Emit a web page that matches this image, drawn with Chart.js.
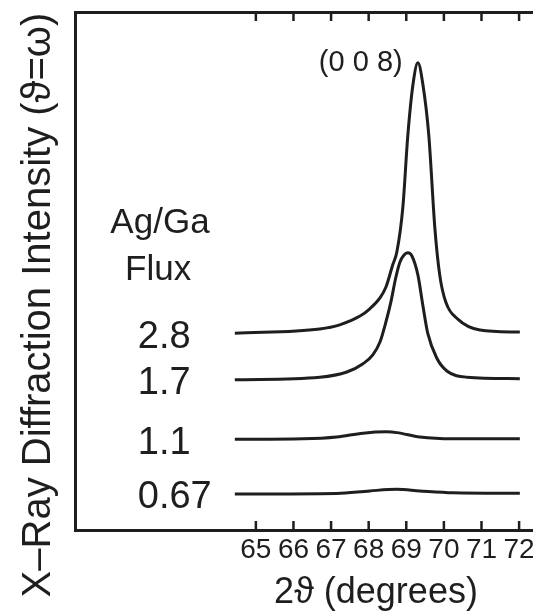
<!DOCTYPE html>
<html>
<head>
<meta charset="utf-8">
<title>X-Ray Diffraction (0 0 8) peak vs Ag/Ga flux</title>
<script src="https://cdn.jsdelivr.net/npm/chart.js@4.4.1/dist/chart.umd.min.js"></script>
<style>
  html, body { margin: 0; padding: 0; background: #ffffff; }
  canvas { display: block; }
</style>
</head>
<body>
<canvas id="xrdChart" width="533" height="616"></canvas>
<script>
// ==========================
// Data
// ==========================

const xTicks = [65, 66, 67, 68, 69, 70, 71, 72];
const fluxLabels = ["2.8", "1.7", "1.1", "0.67"];

// 2θ (degrees) and offset intensity (arb. units) for each flux
const flux28X = [64.44, 66.70, 67.23, 67.77, 68.03, 68.30, 68.46, 68.64, 68.75, 68.91, 69.04, 69.18, 69.31, 69.44, 69.60, 69.76, 69.89, 70.05, 70.37, 70.96, 72.02];
const flux28Y = [38.0, 38.8, 39.6, 41.3, 42.7, 44.8, 46.9, 51.2, 53.7, 62.4, 76.1, 86.1, 90.2, 86.1, 76.1, 58.3, 49.2, 44.0, 40.7, 38.6, 38.2];

const flux17X = [64.44, 66.70, 67.42, 67.85, 68.11, 68.30, 68.46, 68.59, 68.72, 68.83, 68.94, 69.04, 69.15, 69.31, 69.44, 69.57, 69.81, 70.08, 70.61, 72.02];
const flux17Y = [29.0, 29.5, 30.5, 32.1, 33.8, 36.3, 40.2, 44.0, 48.7, 51.7, 53.1, 53.5, 52.9, 49.2, 43.4, 38.0, 33.2, 30.7, 29.5, 29.2];

const flux11X = [64.44, 66.25, 67.15, 67.85, 68.48, 68.75, 69.36, 70.24, 72.02];
const flux11Y = [17.5, 17.6, 17.95, 18.7, 18.95, 18.8, 17.95, 17.6, 17.6];

const flux067X = [64.44, 67.15, 68.03, 68.75, 69.36, 70.24, 72.02];
const flux067Y = [6.95, 7.05, 7.55, 7.85, 7.55, 7.2, 7.1];

// ==========================
// Styling
// ==========================

const ink = "#1e1e1e";
const family = '"Liberation Sans", Arial, sans-serif';

const toPoints = (xs, ys) => xs.map((x, i) => ({ x: x, y: ys[i] }));

const makeLine = (label, xs, ys) => ({
    label: label,
    data: toPoints(xs, ys),
    borderColor: ink,
    borderWidth: 3,
    pointRadius: 0,
    fill: false,
    cubicInterpolationMode: "monotone"
});

const frame = { display: true, color: ink, width: 3 };

// inward ticks, annotations and axis titles
const annotate = {
    id: "annotate",
    afterDraw(chart) {
        const { ctx, chartArea } = chart;
        const xs = chart.scales.x;
        const ys = chart.scales.y;

        ctx.save();

        ctx.strokeStyle = ink;
        ctx.lineWidth = 2.5;
        xTicks.forEach(v => {
            const px = xs.getPixelForValue(v);
            ctx.beginPath();
            ctx.moveTo(px, chartArea.bottom);
            ctx.lineTo(px, chartArea.bottom - 9);
            ctx.moveTo(px, chartArea.top);
            ctx.lineTo(px, chartArea.top + 9);
            ctx.stroke();
        });

        ctx.fillStyle = ink;

        // peak label
        ctx.font = "29px " + family;
        ctx.textAlign = "center";
        ctx.textBaseline = "middle";
        ctx.fillText("(0 0 8)", xs.getPixelForValue(67.79), ys.getPixelForValue(90.1));

        // legend header
        ctx.font = "35px " + family;
        ctx.textBaseline = "alphabetic";
        ctx.fillText("Ag/Ga", xs.getPixelForValue(62.45), ys.getPixelForValue(57.3));
        ctx.fillText("Flux", xs.getPixelForValue(62.4), ys.getPixelForValue(48.3));

        // flux values next to each trace
        ctx.font = "38px " + family;
        ctx.textAlign = "left";
        chart.data.datasets.forEach((ds, i) => {
            const py = ys.getPixelForValue(ds.data[0].y);
            ctx.fillText(fluxLabels[i], xs.getPixelForValue(61.86), py + 14.5);
        });

        // x title
        ctx.font = "36px " + family;
        ctx.textAlign = "center";
        ctx.fillText("2\u03D1 (degrees)", 376, 603);

        // y title
        ctx.translate(50, 305);
        ctx.rotate(-Math.PI / 2);
        ctx.font = "40px " + family;
        ctx.fillText("X\u2013Ray Diffraction Intensity (\u03D1=\u03C9)", 0, 0);

        ctx.restore();
    }
};

const chartCanvas = document.getElementById("xrdChart");

new Chart(chartCanvas, {

    type: "line",

    data: {
        datasets: [
            makeLine("2.8", flux28X, flux28Y),
            makeLine("1.7", flux17X, flux17Y),
            makeLine("1.1", flux11X, flux11Y),
            makeLine("0.67", flux067X, flux067Y)
        ]
    },

    options: {
        responsive: false,
        animation: false,
        devicePixelRatio: 1,
        layout: { padding: 0 },
        plugins: {
            legend: { display: false },
            tooltip: { enabled: false }
        },
        scales: {
            x: {
                type: "linear",
                position: "bottom",
                min: 60.19,
                max: 72.37,
                afterBuildTicks: s => { s.ticks = xTicks.map(v => ({ value: v })); },
                afterFit: s => { s.height = 86; s.paddingLeft = 0; s.paddingRight = 0; },
                grid: { display: false, drawTicks: false },
                border: frame,
                ticks: {
                    color: ink,
                    font: { family: family, size: 28 },
                    padding: 3,
                    autoSkip: false,
                    maxRotation: 0,
                    minRotation: 0
                }
            },
            xTop: {
                type: "linear",
                axis: "x",
                position: "top",
                min: 60.19,
                max: 72.37,
                afterFit: s => { s.height = 12; s.paddingLeft = 0; s.paddingRight = 0; },
                grid: { display: false, drawTicks: false },
                border: frame,
                ticks: { display: false }
            },
            y: {
                type: "linear",
                min: 0,
                max: 100,
                afterFit: s => { s.width = 75; },
                grid: { display: false, drawTicks: false },
                border: frame,
                ticks: { display: false }
            }
        }
    },

    plugins: [annotate]

});
</script>
</body>
</html>
